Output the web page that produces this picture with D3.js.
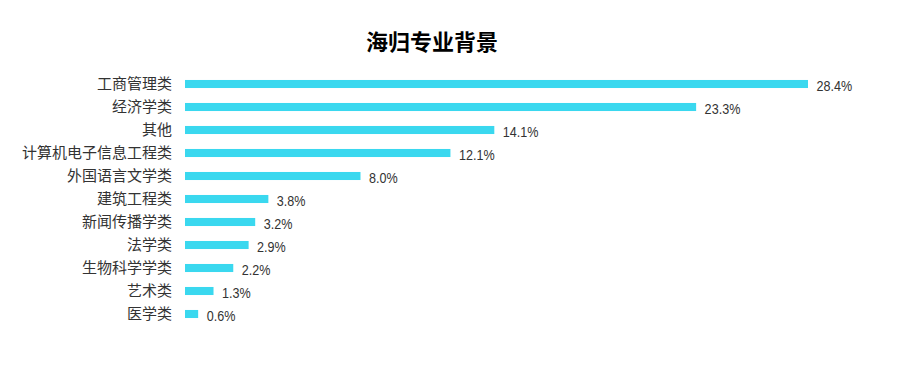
<!DOCTYPE html>
<html>
<head>
<meta charset="utf-8">
<script src="https://cdn.jsdelivr.net/npm/d3@7"></script>
<style>
  body { margin: 0; background: #fff; }
  svg { display: block; }
</style>
</head>
<body>
<div id="chart"></div>
<script>
const categories = ['工商管理类', '经济学类', '其他', '计算机电子信息工程类', '外国语言文学类',
                    '建筑工程类', '新闻传播学类', '法学类', '生物科学学类', '艺术类', '医学类'];
const shares = [28.4, 23.3, 14.1, 12.1, 8.0, 3.8, 3.2, 2.9, 2.2, 1.3, 0.6];

const svgWidth = 918, svgHeight = 381;
const plotLeft = 185, plotTop = 72.5;

const svg = d3.select('#chart')
              .append('svg')
              .attr('width', svgWidth)
              .attr('height', svgHeight);

svg.append('text')
   .text('海归专业背景')
   .attr('x', 432)
   .attr('y', 50)
   .attr('text-anchor', 'middle')
   .style('font-family', '"Noto Sans CJK SC", sans-serif')
   .style('font-weight', 'bold')
   .style('font-size', '22px')
   .style('fill', '#000');

const xScale = d3.scaleLinear()
                 .domain([0, 28.4])
                 .range([plotLeft, 808]);

const yScale = d3.scaleBand()
                 .domain(categories)
                 .range([plotTop, plotTop + 23 * categories.length])
                 .paddingInner(0.65)
                 .paddingOuter(0.325);

// category axis, no line or ticks
const yAxis = d3.axisLeft(yScale).tickSize(0).tickPadding(0);
const gy = svg.append('g')
              .attr('transform', 'translate(172, 0)')
              .call(yAxis);
gy.select('.domain').remove();
gy.selectAll('text')
  .style('font-family', '"Noto Sans CJK SC", sans-serif')
  .style('font-size', '15px')
  .style('fill', '#333');

svg.selectAll('rect.bar')
   .data(shares)
   .enter()
   .append('rect')
   .attr('class', 'bar')
   .attr('x', xScale(0))
   .attr('y', (d, i) => yScale(categories[i]))
   .attr('width', d => xScale(d) - xScale(0))
   .attr('height', yScale.bandwidth())
   .attr('fill', '#3ad8ef');

// value labels, squeezed horizontally to look like a narrow face
svg.selectAll('text.val')
   .data(shares)
   .enter()
   .append('text')
   .attr('class', 'val')
   .text(d => d.toFixed(1) + '%')
   .attr('transform', (d, i) => 'translate(' + (xScale(d) + 8.5) + ',' +
         (yScale(categories[i]) + yScale.bandwidth() / 2 + 6.5) + ') scale(0.84,1)')
   .style('font-family', '"Liberation Sans", Arial, sans-serif')
   .style('font-size', '15px')
   .style('fill', '#333');
</script>
</body>
</html>
